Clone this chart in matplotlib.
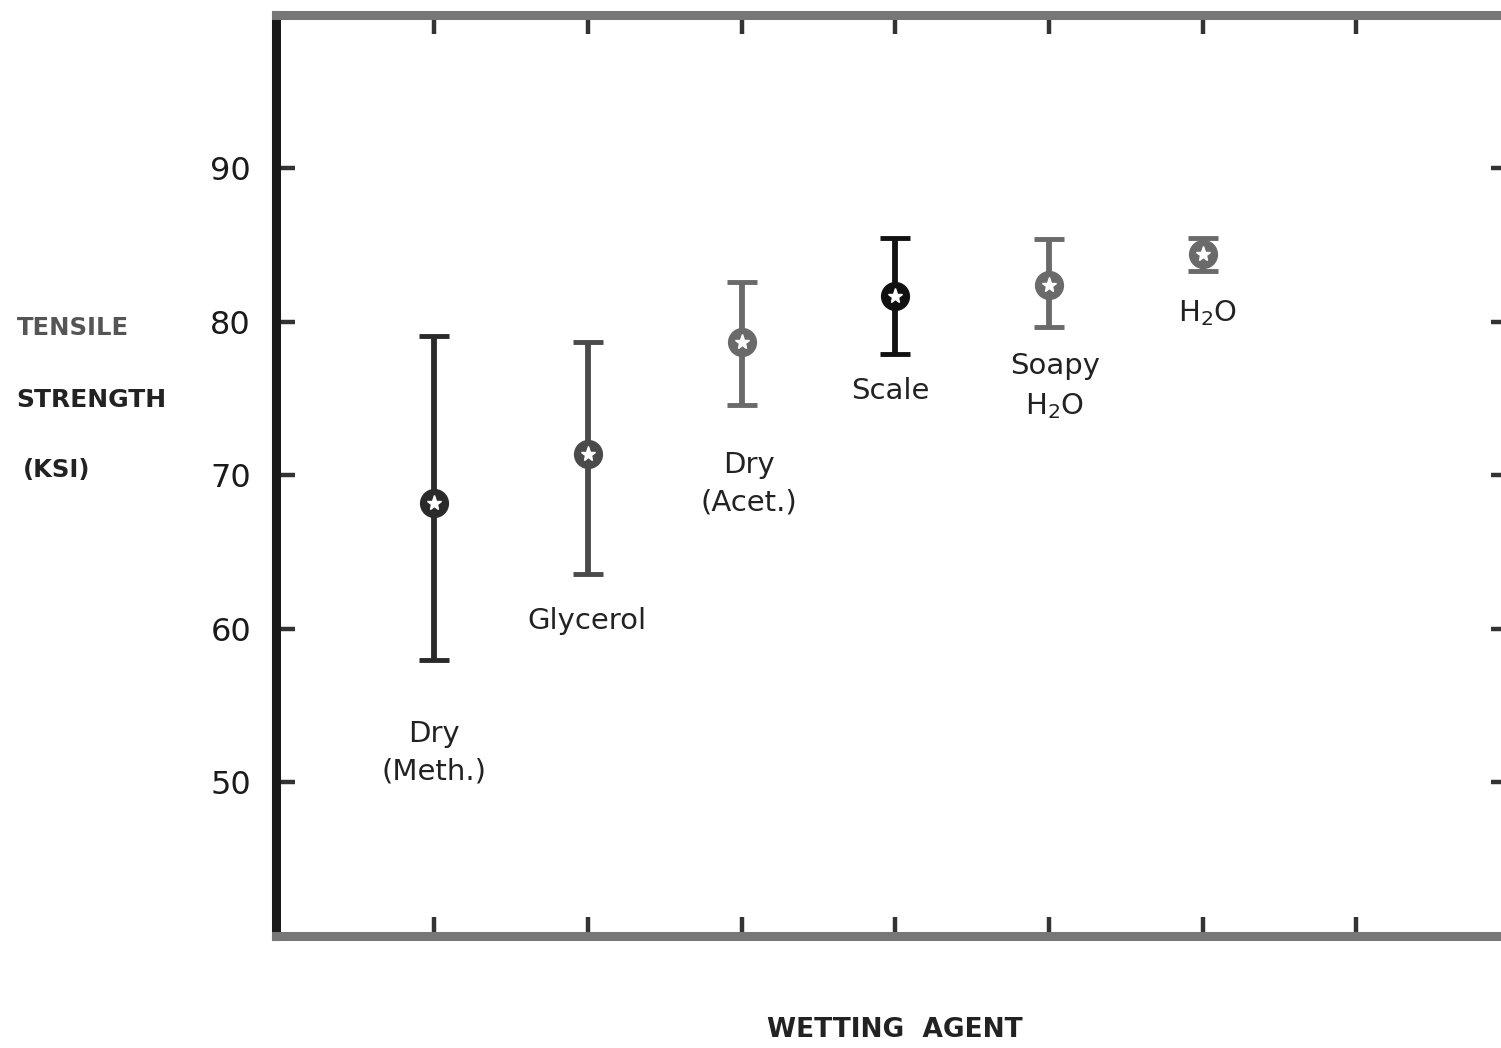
"""
Tensile strength vs. wetting agent, redrawn from a scanned figure.
"""

import matplotlib
matplotlib.use("Agg")
import matplotlib.pyplot as plt

# Data (KSI)
agents = ["Dry\n(Meth.)", "Glycerol", "Dry\n(Acet.)", "Scale",
          "Soapy\nH$_2$O", "H$_2$O"]
positions = [1, 2, 3, 4, 5, 6]
mean_ksi = [68.2, 71.4, 78.7, 81.7, 82.4, 84.4]
upper_ksi = [79.1, 78.7, 82.6, 85.5, 85.4, 85.5]
lower_ksi = [58.0, 63.6, 74.6, 77.9, 79.7, 83.3]
point_colors = ["#2a2a2a", "#4a4a4a", "#6a6a6a", "#111111", "#6a6a6a", "#6a6a6a"]

# where each agent name sits (data coords)
label_x = [1.0, 1.995, 3.05, 3.97, 5.04, 6.03]
label_y = [51.95, 60.55, 69.45, 75.5, 75.8, 80.6]

y_ticks = [50, 60, 70, 80, 90]
x_ticks = [1, 2, 3, 4, 5, 6, 7]


def main():
    fig = plt.figure(figsize=(15.01, 10.48), dpi=100)
    ax = fig.add_axes([0.1839, 0.1069, 0.822, 0.8788])

    for x, m, hi, lo, c in zip(positions, mean_ksi, upper_ksi, lower_ksi, point_colors):
        ax.errorbar([x], [m], yerr=[[m - lo], [hi - m]], fmt="none",
                    ecolor=c, elinewidth=4.2, capsize=11, capthick=3.5, zorder=2)
        ax.plot([x], [m], marker="o", markersize=20, color=c,
                markeredgecolor=c, linestyle="none", zorder=3)
        ax.plot([x], [m], marker="*", markersize=11, color="white",
                markeredgecolor="white", linestyle="none", zorder=4)

    for lab, lx, ly in zip(agents, label_x, label_y):
        ax.text(lx, ly, lab, ha="center", va="center", fontsize=21,
                color="#222222", linespacing=1.45)

    ax.set_xlim(-0.03, 8.0)
    ax.set_ylim(40, 100)
    ax.set_yticks(y_ticks)
    ax.set_xticks(x_ticks)
    ax.set_xticklabels([])
    ax.tick_params(axis="both", direction="in", length=14, width=3.2,
                   color="#333333", top=True, right=True, labelsize=23,
                   pad=18)
    for lab in ax.get_yticklabels():
        lab.set_color("#1a1a1a")

    for side, sp in ax.spines.items():
        sp.set_linewidth(6.5)
        sp.set_color("#777777")
    ax.spines["left"].set_color("#1a1a1a")

    # axis titles as in the scan
    fig.text(0.011, 1 - 328 / 1048, "TENSILE", fontsize=17.5, fontweight="bold",
             color="#555555", va="center", ha="left")
    fig.text(0.011, 1 - 400 / 1048, "STRENGTH", fontsize=18, fontweight="bold",
             color="#222222", va="center", ha="left")
    fig.text(0.015, 1 - 470 / 1048, "(KSI)", fontsize=17.5, fontweight="bold",
             color="#222222", va="center", ha="left")
    fig.text(895 / 1501, 1 - 1030 / 1048, "WETTING  AGENT",
             fontsize=19, fontweight="bold", color="#222222",
             va="center", ha="center")

    fig.savefig("out.png", dpi=100)
    plt.close(fig)


if __name__ == "__main__":
    main()
